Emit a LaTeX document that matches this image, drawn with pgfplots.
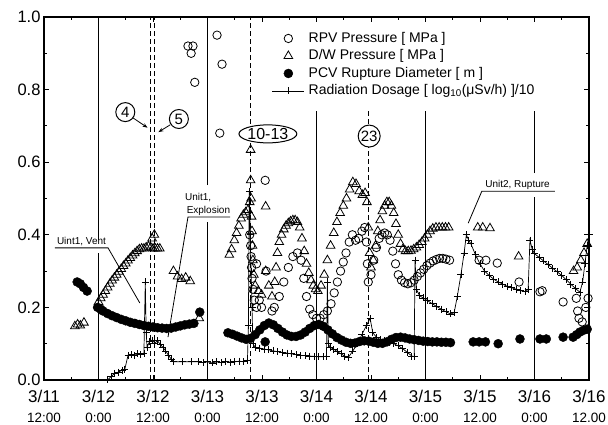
\documentclass[border=0pt]{standalone}
\usepackage{fontspec}
\setmainfont{Liberation Sans}
\usepackage{pgfplots}
\pgfplotsset{compat=1.18}
\usetikzlibrary{arrows.meta,shapes.geometric}
\pgfplotsset{myleg/.style={legend image code/.code={\draw[mark repeat=2,mark phase=2,##1] plot coordinates {(0pt,0pt) (16pt,0pt) (32pt,0pt)};}}}
\begin{document}
\begin{tikzpicture}
\begin{axis}[
  scale only axis, width=545pt, height=363pt,
  xmin=0, xmax=120, ymin=0, ymax=1,
  axis line style={line width=1.1pt},
  xtick={0,12,24,36,48,60,72,84,96,108,120}, minor x tick num=1,
  ytick={0,0.2,0.4,0.6,0.8,1.0}, minor y tick num=1,
  yticklabels={0.0,0.2,0.4,0.6,0.8,1.0},
  xticklabels={{{\fontsize{17}{18}\selectfont 3/11}\\12:00},
               {{\fontsize{17}{18}\selectfont 3/12}\\0:00},
               {{\fontsize{17}{18}\selectfont 3/12}\\12:00},
               {{\fontsize{17}{18}\selectfont 3/13}\\0:00},
               {{\fontsize{17}{18}\selectfont 3/13}\\12:00},
               {{\fontsize{17}{18}\selectfont 3/14}\\0:00},
               {{\fontsize{17}{18}\selectfont 3/14}\\12.00},
               {{\fontsize{17}{18}\selectfont 3/15}\\0:00},
               {{\fontsize{17}{18}\selectfont 3/15}\\12.00},
               {{\fontsize{17}{18}\selectfont 3/16}\\0:00},
               {{\fontsize{17}{18}\selectfont 3/16}\\12.00}},
  tick align=inside, tick pos=both, xticklabel pos=lower, yticklabel pos=left,
  major tick length=5pt, minor tick length=3pt,
  tick style={line width=0.9pt, black},
  yticklabel style={font=\fontsize{16.5}{18}\selectfont},
  xticklabel style={align=center, font=\fontsize{13.5}{19.5}\selectfont, yshift=-7pt},
  legend cell align=left,
  legend style={at={(0.418,0.960)}, anchor=north west, draw=none, fill=none,
    font=\fontsize{14}{16}\selectfont, row sep=4pt, inner sep=0pt,
    nodes={inner xsep=4pt, inner ysep=0pt, text height=10.5pt, text depth=3pt}},
]
% reference lines
\draw[line width=1.1pt] (axis cs:12,0) -- (axis cs:12,0.35);
\draw[line width=1.1pt] (axis cs:12,0.386) -- (axis cs:12,1);
\draw[line width=1.1pt] (axis cs:36,0) -- (axis cs:36,0.435);
\draw[line width=1.1pt] (axis cs:36,0.537) -- (axis cs:36,1);
\draw[line width=1.1pt] (axis cs:60,0) -- (axis cs:60,0.741);
\draw[line width=1.1pt] (axis cs:84,0) -- (axis cs:84,0.741);
\draw[line width=1.1pt] (axis cs:108,0) -- (axis cs:108,0.504);
\draw[line width=1.1pt] (axis cs:108,0.570) -- (axis cs:108,0.741);
\draw[line width=1.3pt, dash pattern=on 5pt off 3pt] (axis cs:23.4,0) -- (axis cs:23.4,1);
\draw[line width=1.3pt, dash pattern=on 5pt off 3pt] (axis cs:24.4,0) -- (axis cs:24.4,1);
\draw[line width=1.3pt, dash pattern=on 5pt off 3pt] (axis cs:45.5,0) -- (axis cs:45.5,1);
\draw[line width=1.3pt, dash pattern=on 5pt off 3pt] (axis cs:71.4,0) -- (axis cs:71.4,0.745);

\addplot[only marks, mark=o, mark size=4.2pt, mark options={line width=0.8pt}, black, myleg] coordinates {
(31.7,0.92) (32.8,0.92) (32.4,0.90) (33.2,0.82) (38.1,0.95) (39.2,0.87) (38.7,0.68) (48.7,0.55)
(45.3,0.40) (45.5,0.37) (45.6,0.34) (45.7,0.31) (45.8,0.28) (46.0,0.25) (46.3,0.22) (46.8,0.20)
(47.4,0.22) (47.9,0.20) (46.8,0.32) (48.9,0.30) (50.2,0.19) (50.7,0.20) (51.8,0.23) (52.8,0.27)
(53.8,0.31) (54.8,0.34) (55.8,0.35) (56.6,0.33) (57.2,0.28) (57.8,0.23) (58.5,0.195) (59.2,0.18)
(60.0,0.17) (60.8,0.17) (61.6,0.18) (62.4,0.19) (63.2,0.21) (63.9,0.24) (64.6,0.27) (65.3,0.30)
(65.9,0.325) (66.5,0.35) (67.2,0.38) (67.9,0.40) (68.6,0.385) (69.3,0.39) (70.0,0.41) (70.6,0.42)
(71.0,0.38) (71.2,0.32) (71.4,0.27) (72.0,0.29) (72.6,0.33) (73.2,0.365) (73.8,0.39) (74.4,0.40)
(75.0,0.405) (75.6,0.40) (76.2,0.385) (76.8,0.355) (77.4,0.32) (78.0,0.29) (78.7,0.275) (79.4,0.268)
(80.1,0.265) (80.8,0.268) (81.5,0.275) (82.2,0.285) (82.9,0.295) (83.6,0.305) (84.3,0.315) (85.0,0.322)
(85.7,0.328) (86.4,0.332) (87.1,0.335) (87.8,0.335) (88.5,0.333) (89.3,0.33) (95.8,0.33) (97.3,0.33)
(99.8,0.322) (104.6,0.27) (109.2,0.243) (109.7,0.246) (114.3,0.215) (117.2,0.225) (117.5,0.19)
(117.8,0.17) (118.5,0.16) (119.3,0.2) (119.8,0.225)
};
\addlegendentry{RPV Pressure [ MPa ]}

\addplot[only marks, mark=triangle, mark size=5pt, mark options={line width=0.8pt}, black, myleg] coordinates {
(6.8,0.148) (7.4,0.153) (8.0,0.150) (8.8,0.158)
(12.0,0.215) (12.5,0.225) (13.0,0.235) (13.5,0.245) (14.0,0.255) (14.5,0.265) (15.0,0.274) (15.5,0.282)
(16.0,0.290) (16.5,0.298) (17.0,0.306) (17.5,0.314) (18.0,0.321) (18.5,0.329) (19.0,0.336) (19.5,0.343)
(20.0,0.349) (20.5,0.355) (21.0,0.360) (21.5,0.362) (22.0,0.362) (22.5,0.365) (23.0,0.368) (23.5,0.365)
(24.0,0.362) (24.5,0.362) (25.0,0.362) (25.5,0.362) (23.8,0.39) (24.3,0.40)
(28.5,0.30) (29.4,0.285) (30.3,0.278) (31.2,0.282) (32.2,0.272) (34.2,0.17)
(40.8,0.345) (41.3,0.36) (41.9,0.385) (42.4,0.405) (42.9,0.425) (43.4,0.445) (43.9,0.455) (44.4,0.462)
(44.9,0.468) (45.3,0.49) (45.5,0.55) (45.5,0.634) (45.6,0.50) (45.7,0.45) (45.8,0.41) (45.9,0.37)
(46.0,0.33) (46.2,0.29) (46.5,0.26) (47.2,0.245) (47.9,0.235) (48.8,0.478) (48.8,0.30) (49.5,0.26)
(50.2,0.23) (50.8,0.27) (51.1,0.31) (51.4,0.35) (51.8,0.38) (52.3,0.40) (52.8,0.415) (53.3,0.425)
(53.8,0.432) (54.3,0.437) (54.8,0.44) (55.3,0.44) (55.8,0.435) (56.3,0.42) (56.8,0.39) (57.3,0.355)
(57.8,0.32) (58.3,0.295) (58.8,0.275) (59.3,0.26) (59.8,0.25) (60.3,0.245) (61.0,0.26) (61.7,0.29)
(62.4,0.33) (63.1,0.37) (63.8,0.405) (64.5,0.435) (65.2,0.46) (65.9,0.48) (66.6,0.50) (67.3,0.525)
(68.0,0.545) (68.7,0.54) (69.4,0.52) (70.1,0.51) (70.7,0.515) (71.1,0.49) (71.4,0.42) (71.7,0.35)
(72.0,0.31) (72.5,0.33) (73.0,0.37) (73.5,0.41) (74.0,0.44) (74.5,0.465) (75.0,0.48) (75.5,0.49)
(76.0,0.49) (76.5,0.48) (77.0,0.46) (77.5,0.43) (78.0,0.40) (78.5,0.375) (79.0,0.36) (79.6,0.355)
(80.2,0.355) (80.8,0.356) (81.4,0.36) (82.0,0.365) (82.6,0.372) (83.2,0.38) (83.8,0.39) (84.4,0.40)
(85.0,0.41) (85.6,0.417) (86.3,0.42) (87.0,0.42) (87.7,0.42) (88.4,0.42) (89.1,0.42) (95.5,0.42)
(96.6,0.42) (98.2,0.418) (104.5,0.34) (116.6,0.30) (117.4,0.31) (118.2,0.33) (118.9,0.35) (119.6,0.375)
};
\addlegendentry{D/W Pressure [ MPa ]}

\addplot[only marks, mark=*, mark size=4.5pt, black, myleg] coordinates {
(7.3,0.27) (8.0,0.265) (8.7,0.255) (9.5,0.245)
(11.8,0.200) (12.5,0.195) (13.0,0.190) (14,0.183) (15,0.177) (16,0.172) (17,0.167) (18,0.163)
(19,0.159) (20,0.156) (21,0.153) (22,0.150) (23,0.148) (24,0.146) (25,0.144) (26,0.143) (27,0.142)
(28,0.143) (29,0.146) (30,0.149) (31,0.152) (32,0.154) (33,0.156) (34.3,0.187)
(40.5,0.130) (41.5,0.126) (42.5,0.121) (43.5,0.116) (44.5,0.112) (45.5,0.115) (46.5,0.125)
(47.5,0.138) (48.5,0.150) (49.5,0.157) (50.5,0.152) (51.5,0.142) (52.5,0.132) (53.5,0.124)
(54.5,0.120) (55.5,0.120) (56.5,0.124) (57.5,0.132) (58.5,0.142) (59.5,0.150) (60.5,0.153)
(61.5,0.148) (62.5,0.138) (63.5,0.127) (64.5,0.117) (65.5,0.110) (66.5,0.104) (67.5,0.101)
(68.5,0.102) (69.5,0.106) (70.5,0.108) (71.5,0.107) (72.5,0.104) (73.5,0.101) (74.5,0.101)
(75.5,0.105) (76.5,0.112) (77.5,0.117) (78.5,0.118) (79.5,0.116) (80.5,0.113) (81.5,0.111)
(82.5,0.109) (83.5,0.107) (84.5,0.106) (85.5,0.105) (86.5,0.105) (87.5,0.104) (88.5,0.104)
(89.5,0.103) (48.7,0.105)
(94.5,0.105) (95.8,0.105) (97.2,0.105) (100,0.10) (104.8,0.113) (109.2,0.113) (110.6,0.113)
(114.3,0.118) (116.5,0.118) (117.3,0.125) (118,0.132) (118.8,0.137) (119.6,0.14)
};
\addlegendentry{PCV Rupture Diameter [ m ]}

\addplot[black, line width=0.7pt, mark=+, mark size=3.5pt, mark options={line width=0.8pt}, myleg] coordinates {
(14.0,0.000) (14.8,0.010) (15.6,0.018) (16.4,0.022) (17.2,0.027) (17.8,0.030)
(18.5,0.068) (19.2,0.070) (19.9,0.068) (20.6,0.072) (21.3,0.070) (22.0,0.074) (22.3,0.270)
(22.5,0.130) (22.7,0.090) (23.2,0.105) (23.8,0.110) (24.4,0.102) (25.0,0.108) (25.6,0.098)
(26.2,0.090) (26.8,0.080) (27.4,0.068) (28.0,0.058) (28.6,0.050) (30.5,0.050) (32.5,0.050)
(34.0,0.050) (35.0,0.048) (36.0,0.050) (37.0,0.047) (38.0,0.050) (39.0,0.048) (40.0,0.051)
(41.0,0.049) (42.0,0.050) (43.0,0.052) (44.0,0.050) (44.8,0.055) (45.0,0.15) (45.2,0.52)
(45.4,0.40) (45.6,0.30) (45.8,0.20) (46.0,0.10) (46.5,0.090) (47.5,0.088) (48.5,0.085)
(49.5,0.083) (50.5,0.080) (51.5,0.078) (52.5,0.076) (53.5,0.074) (54.5,0.072) (55.5,0.070)
(56.5,0.068) (57.5,0.067) (58.5,0.066) (59.5,0.065) (60.5,0.064) (61.5,0.064) (62.2,0.066)
(62.4,0.27) (62.6,0.10) (63.0,0.090) (63.8,0.085) (64.6,0.078) (65.4,0.072) (66.2,0.066)
(67.0,0.062) (68.0,0.080) (69.0,0.100) (70.0,0.125) (71.0,0.150) (71.8,0.170) (72.4,0.130)
(73.2,0.118) (74.0,0.112) (75.0,0.108) (76.0,0.104) (77.0,0.100) (78.0,0.094) (79.0,0.086)
(80.0,0.076) (81.0,0.066) (81.5,0.064) (81.7,0.330) (82.0,0.250) (82.7,0.232) (83.5,0.226)
(84.5,0.218) (85.5,0.210) (86.5,0.202) (87.5,0.195) (88.5,0.188) (89.5,0.182) (90.3,0.185)
(91.0,0.230) (91.8,0.290) (92.5,0.350) (93.0,0.400) (93.5,0.385) (94.0,0.375) (95.0,0.345)
(96.0,0.320) (97.0,0.300) (98.0,0.288) (99.0,0.278) (100.0,0.270) (101.0,0.264) (102.0,0.258)
(103.0,0.254) (104.0,0.250) (105.0,0.246) (106.0,0.243) (106.6,0.250) (107.0,0.385) (107.5,0.360)
(108.0,0.348) (109.0,0.338) (110.0,0.328) (111.0,0.318) (112.0,0.308) (113.0,0.298) (114.0,0.288)
(115.0,0.276) (116.0,0.264) (117.0,0.252) (118.0,0.242) (118.6,0.270) (119.1,0.320) (119.6,0.370)
(120.0,0.400)
};
\addlegendentry{Radiation Dosage [ log\textsubscript{10}(μSv/h) ]/10}

% annotations
\node[draw, circle, fill=white, minimum size=19pt, inner sep=0pt, line width=1pt, font=\fontsize{15}{15}\selectfont] at (axis cs:17.9,0.738) {4};
\draw[line width=0.8pt, -{Stealth[length=5pt]}] (axis cs:19.6,0.722) -- (axis cs:22.8,0.695);
\node[draw, circle, fill=white, minimum size=19pt, inner sep=0pt, line width=1pt, font=\fontsize{15}{15}\selectfont] at (axis cs:29.7,0.719) {5};
\draw[line width=0.8pt, -{Stealth[length=5pt]}] (axis cs:27.8,0.703) -- (axis cs:25.2,0.683);
\node[draw, ellipse, fill=white, minimum width=54pt, minimum height=18pt, inner sep=0pt, line width=1pt, font=\fontsize{16}{16}\selectfont] at (axis cs:49.3,0.678) {10-13};
\node[draw, circle, fill=white, minimum size=22pt, inner sep=0pt, line width=1pt, font=\fontsize{15}{15}\selectfont] at (axis cs:71.6,0.672) {23};

\node[anchor=south west, inner sep=1pt, font=\fontsize{10}{12}\selectfont] at (axis cs:2.6,0.366) {Uint1, Vent};
\draw[line width=0.8pt] (axis cs:2.4,0.364) -- (axis cs:14.1,0.364) -- (axis cs:21.1,0.212);
\node[anchor=south west, inner sep=1pt, align=left, font=\fontsize{10}{13}\selectfont] at (axis cs:30.8,0.451) {Unit1,\\\,Explosion};
\draw[line width=0.8pt] (axis cs:41,0.449) -- (axis cs:31.7,0.449) -- (axis cs:27.3,0.118);
\node[anchor=south west, inner sep=1pt, font=\fontsize{10}{12}\selectfont] at (axis cs:96.9,0.522) {Unit2, Rupture};
\draw[line width=0.8pt] (axis cs:112.5,0.520) -- (axis cs:96.4,0.520) -- (axis cs:93.4,0.432);
\end{axis}
\pgfresetboundingbox
\path (-44pt,-45pt) rectangle (564pt,380pt);
\end{tikzpicture}
\end{document}
